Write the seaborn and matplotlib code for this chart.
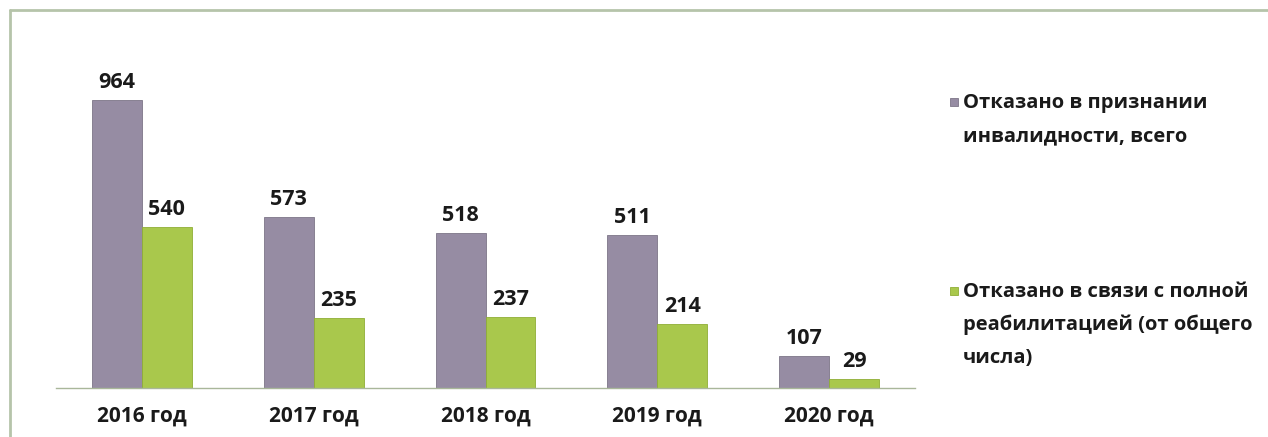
import numpy as np
import pandas as pd
import seaborn as sns
import matplotlib.pyplot as plt
from matplotlib.lines import Line2D
from matplotlib.patches import Rectangle

# Data
years = ['2016 год', '2017 год', '2018 год', '2019 год', '2020 год']
refused_total = [964, 573, 518, 511, 107]
refused_rehab = [540, 235, 237, 214, 29]
series_names = ['Отказано в признании\nинвалидности, всего',
                'Отказано в связи с полной\nреабилитацией (от общего\nчисла)']

df = pd.DataFrame({
    'year': years * 2,
    'series': [series_names[0]] * len(years) + [series_names[1]] * len(years),
    'value': refused_total + refused_rehab,
})

sns.set_style('white')
plt.rcParams['font.family'] = ['Open Sans', 'DejaVu Sans']

W, H = 1268, 437
fig = plt.figure(figsize=(W / 100, H / 100), dpi=100)
ax = fig.add_axes([56 / W, 1 - 388 / H, (915 - 56) / W, (388 - 50) / H])

palette = ['#968ca3', '#a9c84c']
edges = ['#7d7588', '#8fae35']
sns.barplot(data=df, x='year', y='value', hue='series', palette=palette,
            width=0.58, gap=0, saturation=1, ax=ax, linewidth=0.6, legend=False)
for bars, ec in zip(ax.containers, edges):
    for b in bars:
        b.set_edgecolor(ec)
    ax.bar_label(bars, fmt='%d', padding=5, fontsize=15.5, fontweight='bold',
                 color='#1a1a1a')

ax.set_ylim(0, 964 * 338 / 288)
ax.set_xlim(-0.5, len(years) - 0.5)
ax.set_xlabel('')
ax.set_ylabel('')
ax.set_yticks([])
ax.tick_params(axis='x', which='major', length=0, pad=13, labelsize=15)
for lbl in ax.get_xticklabels():
    lbl.set_fontweight('bold')
    lbl.set_color('#1a1a1a')
ax.set_xticks(np.arange(-0.5, len(years), 1), minor=True)
ax.tick_params(axis='x', which='minor', length=6, color='#a9b79a', width=1)
for side in ['top', 'right', 'left']:
    ax.spines[side].set_visible(False)
ax.spines['bottom'].set_color('#a9b79a')
ax.spines['bottom'].set_linewidth(1)

# legend: square marker aligned with the first line of each label
marker_y = [102, 291]
last_baseline_y = [141, 363]
for name, color, ec, my, by in zip(series_names, palette, edges, marker_y, last_baseline_y):
    fig.add_artist(Rectangle((950 / W, 1 - (my + 4) / H), 8 / W, 8 / H,
                             transform=fig.transFigure, facecolor=color,
                             edgecolor=ec, linewidth=0.6))
    fig.text(963 / W, 1 - by / H, name, fontsize=14.5, fontweight='bold',
             color='#1a1a1a', ha='left', va='baseline', linespacing=1.85)

# outer frame
fig.add_artist(Line2D([9.5 / W, 9.5 / W], [0, 1 - 10 / H], transform=fig.transFigure,
                      color='#b6c4aa', linewidth=2))
fig.add_artist(Line2D([9.5 / W, 1], [1 - 10 / H, 1 - 10 / H], transform=fig.transFigure,
                      color='#b6c4aa', linewidth=2))

fig.savefig('out.png', dpi=100)
